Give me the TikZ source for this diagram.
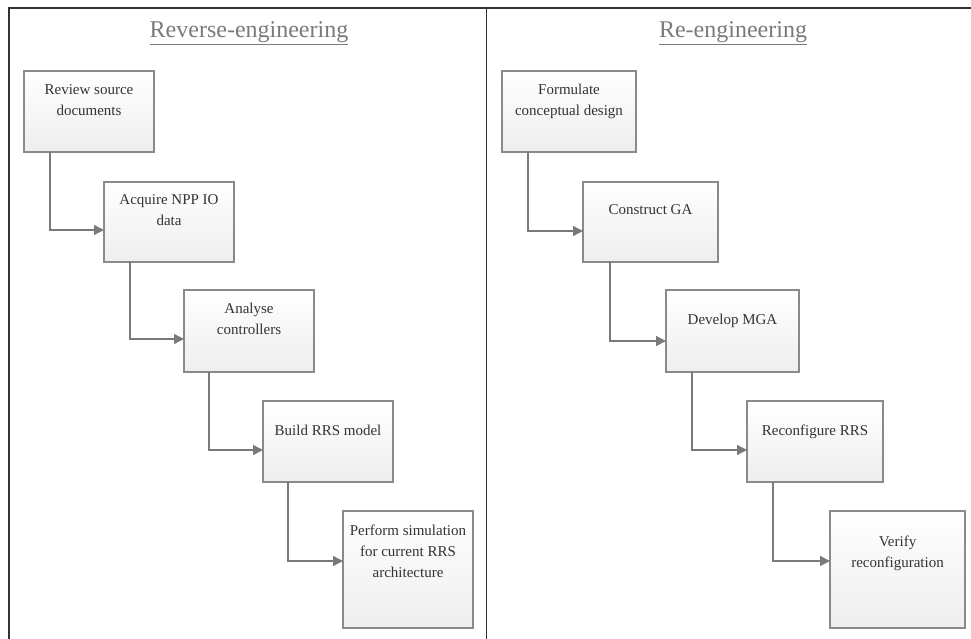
\documentclass[tikz,border=0pt]{standalone}
\usepackage{fontspec}
\setmainfont{Liberation Serif}
\usetikzlibrary{arrows.meta,shadows}
\definecolor{frameclr}{HTML}{333333}
\definecolor{boxborder}{HTML}{8A8A8A}
\definecolor{boxbot}{HTML}{EEEEEE}
\definecolor{conclr}{HTML}{7A7A7A}
\definecolor{txt}{HTML}{333333}
\definecolor{ttl}{HTML}{7A7A7A}
\newcommand\boxtxt[4]{\parbox[c][#2pt][t]{#1pt}{\centering\vspace*{#3pt}\strut #4\par}}
\tikzset{
  stepbox/.style={draw=boxborder, line width=1.1pt, top color=white, bottom color=boxbot,
    inner sep=0pt, outer sep=0pt, anchor=north west,
    drop shadow={shadow xshift=1.3pt, shadow yshift=-1.3pt, opacity=0.3},
    text=txt, font=\fontsize{15}{21}\selectfont},
  conn/.style={draw=conclr, line width=1.4pt, -{Triangle[length=10pt,width=10pt]}},
  frameline/.style={draw=frameclr, line width=1.8pt},
  ttlnode/.style={text=ttl, font=\fontsize{24}{27}\selectfont, inner sep=0pt}
}
\begin{document}
\begin{tikzpicture}[x=1pt,y=-1pt]
\useasboundingbox (0,0) rectangle (971,639);
\draw[frameline] (9,639) -- (9,8) -- (971,8);
\draw[frameline] (486.5,8) -- (486.5,639);
\node[ttlnode] (t1) at (249,33) {\underline{Reverse-engineering}};
\node[ttlnode] (t2) at (733,33) {\underline{Re-engineering}};
% left column
\node[stepbox] (L1) at (24,71)  {\boxtxt{130}{81}{9}{Review source\\documents}};
\node[stepbox] (L2) at (104,182) {\boxtxt{130}{80}{8}{Acquire NPP IO\\data}};
\node[stepbox] (L3) at (184,290) {\boxtxt{130}{82}{9}{Analyse\\controllers}};
\node[stepbox] (L4) at (263,401) {\boxtxt{130}{81}{20}{Build RRS model}};
\node[stepbox] (L5) at (343,511) {\boxtxt{130}{117}{10}{Perform simulation\\for current RRS\\architecture}};
% right column
\node[stepbox] (R1) at (502,71)  {\boxtxt{134}{81}{9}{Formulate\\conceptual design}};
\node[stepbox] (R2) at (583,182) {\boxtxt{135}{80}{18}{Construct GA}};
\node[stepbox] (R3) at (666,290) {\boxtxt{133}{82}{20}{Develop MGA}};
\node[stepbox] (R4) at (747,401) {\boxtxt{136}{81}{20}{Reconfigure RRS}};
\node[stepbox] (R5) at (830,511) {\boxtxt{135}{117}{21}{Verify\\reconfiguration}};
% connectors
\draw[conn] ([xshift=26pt]L1.south west) |- ([yshift=-48pt]L2.north west);
\draw[conn] ([xshift=26pt]L2.south west) |- ([yshift=-49pt]L3.north west);
\draw[conn] ([xshift=25pt]L3.south west) |- ([yshift=-49pt]L4.north west);
\draw[conn] ([xshift=25pt]L4.south west) |- ([yshift=-50pt]L5.north west);
\draw[conn] ([xshift=26pt]R1.south west) |- ([yshift=-49pt]R2.north west);
\draw[conn] ([xshift=27pt]R2.south west) |- ([yshift=-51pt]R3.north west);
\draw[conn] ([xshift=26pt]R3.south west) |- ([yshift=-49pt]R4.north west);
\draw[conn] ([xshift=26pt]R4.south west) |- ([yshift=-50pt]R5.north west);
\end{tikzpicture}
\end{document}
